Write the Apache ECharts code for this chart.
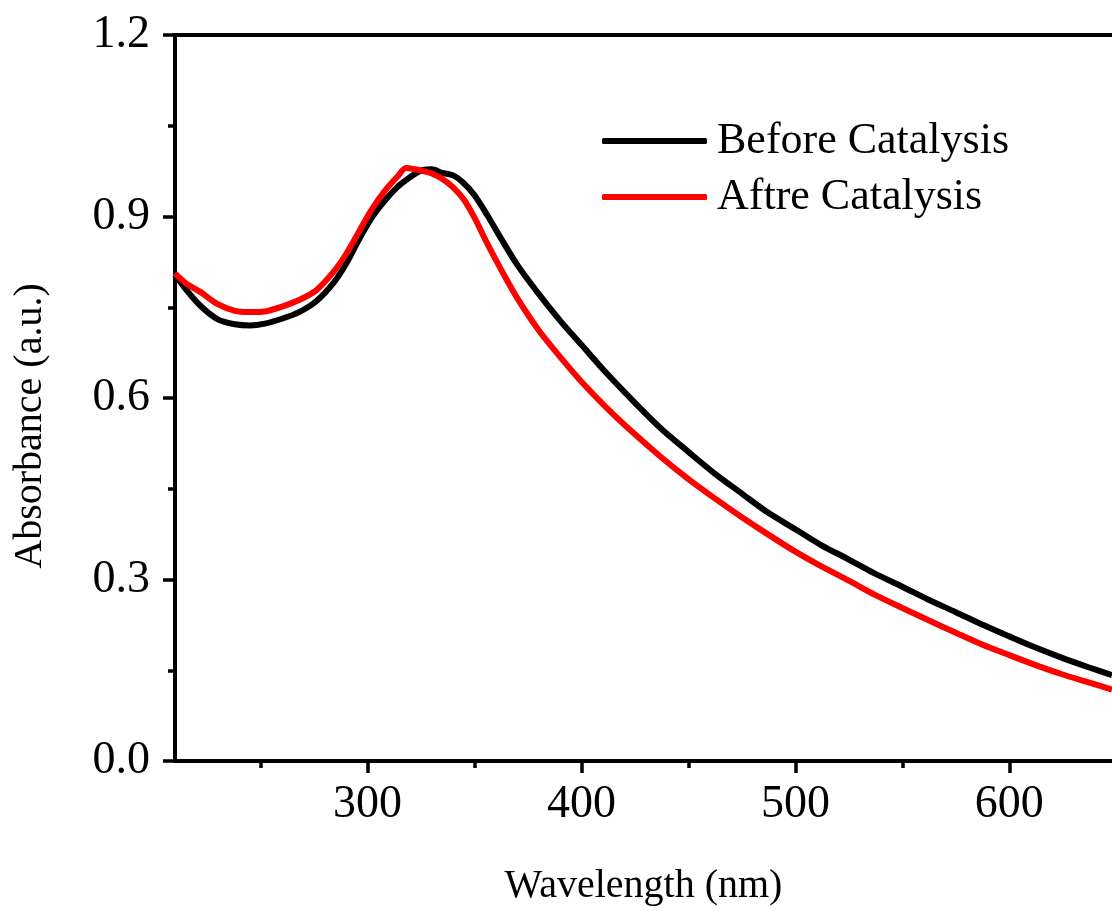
<!DOCTYPE html>
<html>
<head>
<meta charset="utf-8">
<script src="https://cdn.jsdelivr.net/npm/echarts@6/dist/echarts.min.js"></script>
<style>
  html, body { margin: 0; padding: 0; background: #fff; }
  #chart { width: 1112px; height: 911px; }
</style>
</head>
<body>
<div id="chart"></div>
<script>
// Wavelength grid (nm) shared by both spectra
const wavelengths = [210, 215, 222, 230, 238, 245, 252, 260, 268, 276, 284, 290, 296, 302, 308, 314, 318, 322, 326, 330,
  335, 340, 345, 350, 356, 362, 370, 380, 390, 400, 412, 425, 437, 450, 462, 475, 487, 500, 512, 525,
  537, 550, 562, 575, 587, 600, 612, 625, 637, 648]

// Absorbance
const beforeCatalysis = [0.804, 0.780, 0.752, 0.730, 0.722, 0.720, 0.723, 0.731, 0.742, 0.760, 0.790, 0.822, 0.862, 0.898, 0.926, 0.949, 0.960, 0.970, 0.977, 0.978,
  0.972, 0.968, 0.955, 0.935, 0.902, 0.866, 0.820, 0.772, 0.728, 0.688, 0.640, 0.592, 0.550, 0.511, 0.476, 0.442, 0.411, 0.383, 0.357, 0.333,
  0.310, 0.288, 0.267, 0.246, 0.226, 0.206, 0.188, 0.170, 0.155, 0.142]
const afterCatalysis = [0.806, 0.790, 0.775, 0.755, 0.744, 0.742, 0.743, 0.751, 0.762, 0.778, 0.808, 0.838, 0.875, 0.912, 0.942, 0.966, 0.980, 0.978, 0.975, 0.971,
  0.962, 0.948, 0.928, 0.898, 0.855, 0.815, 0.765, 0.712, 0.668, 0.627, 0.583, 0.540, 0.503, 0.466, 0.435, 0.403, 0.375, 0.346, 0.322, 0.298,
  0.275, 0.253, 0.233, 0.212, 0.193, 0.175, 0.159, 0.143, 0.130, 0.118]

// Axis ticks
const xMajorTicks = [300, 400, 500, 600]
const xMinorTicks = [250, 350, 450, 550]

const FONT = '"Liberation Serif", "Times New Roman", serif'
const AXIS_W = 4

const chart = echarts.init(document.getElementById('chart'))

const pairs = (ys) => wavelengths.map((x, i) => [x, ys[i]])

chart.setOption({
  animation: false,
  backgroundColor: '#fff',
  grid: { left: 175, right: 0, top: 35, bottom: 148 },
  legend: {
    orient: 'vertical',
    left: 602,
    top: 119,
    padding: 0,
    itemWidth: 105,
    itemHeight: 6,
    itemGap: 12,
    icon: 'roundRect',
    textStyle: { fontFamily: FONT, fontSize: 44, color: '#000', padding: [0, 0, 0, 5] },
    data: ['Before Catalysis', 'Aftre Catalysis'],
  },
  xAxis: [
    {
      type: 'value',
      min: 210,
      max: 648,
      position: 'bottom',
      name: 'Wavelength (nm)',
      nameLocation: 'middle',
      nameGap: 105,
      nameTextStyle: { fontFamily: FONT, fontSize: 40, color: '#000' },
      axisLine: { show: true, onZero: false, lineStyle: { color: '#000', width: AXIS_W } },
      axisTick: { show: true, customValues: xMajorTicks, length: 12, lineStyle: { color: '#000', width: 3.5 } },
      axisLabel: { customValues: xMajorTicks, margin: 21, fontFamily: FONT, fontSize: 46, color: '#000' },
      splitLine: { show: false },
    },
    {
      // minor ticks only
      type: 'value',
      min: 210,
      max: 648,
      position: 'bottom',
      axisLine: { show: false },
      axisTick: { show: true, customValues: xMinorTicks, length: 7, lineStyle: { color: '#000', width: 3.5 } },
      axisLabel: { show: false },
      splitLine: { show: false },
    },
    {
      // top frame line
      type: 'value',
      min: 210,
      max: 648,
      position: 'top',
      axisLine: { show: true, onZero: false, lineStyle: { color: '#000', width: AXIS_W } },
      axisTick: { show: false },
      axisLabel: { show: false },
      splitLine: { show: false },
    },
  ],
  yAxis: {
    type: 'value',
    min: 0,
    max: 1.2,
    interval: 0.3,
    name: 'Absorbance (a.u.)',
    nameLocation: 'middle',
    nameGap: 125,
    nameTextStyle: { fontFamily: FONT, fontSize: 40, color: '#000', padding: [0, 56, 0, 0] },
    axisLine: { show: true, onZero: false, lineStyle: { color: '#000', width: AXIS_W } },
    axisTick: { show: true, length: 12, lineStyle: { color: '#000', width: 3.5 } },
    minorTick: { show: true, splitNumber: 2, length: 7, lineStyle: { color: '#000', width: 3.5 } },
    axisLabel: {
      margin: 25,
      fontFamily: FONT,
      fontSize: 46,
      color: '#000',
      formatter: (v) => v.toFixed(1),
    },
    splitLine: { show: false },
  },
  series: [
    {
      name: 'Before Catalysis',
      type: 'line',
      xAxisIndex: 0,
      showSymbol: false,
      symbol: 'none',
      smooth: 0.3,
      color: '#000',
      lineStyle: { color: '#000', width: 6 },
      data: pairs(beforeCatalysis),
    },
    {
      name: 'Aftre Catalysis',
      type: 'line',
      xAxisIndex: 0,
      showSymbol: false,
      symbol: 'none',
      smooth: 0.3,
      color: '#f00',
      lineStyle: { color: '#f00', width: 6 },
      data: pairs(afterCatalysis),
    },
  ],
})
</script>
</body>
</html>
